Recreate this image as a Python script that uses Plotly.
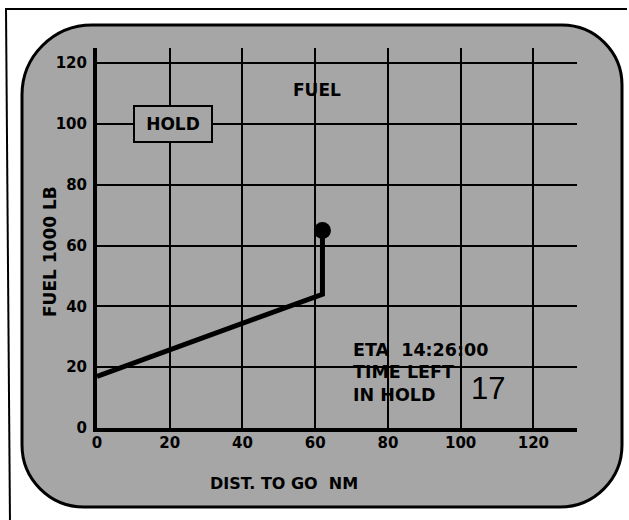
import plotly.graph_objects as go

# ---- data ----
dist_to_go = [0, 62, 62]          # NM
fuel_klb = [17, 44, 65]           # 1000 LB
current_dist = [62]
current_fuel = [65]
x_ticks = [0, 20, 40, 60, 80, 100, 120]
y_ticks = [0, 20, 40, 60, 80, 100, 120]
x_title = "DIST. TO GO  NM"
y_title = "FUEL 1000 LB"
panel_title = "FUEL"
mode_label = "HOLD"
eta_text = "ETA  14:26:00"
time_left_label = ["TIME LEFT", "IN HOLD"]
time_left_value = "17"

W, H = 629, 520
L, R, T, B = 97, 577, 48, 428   # plot area in pixels


def px(p):
    return (p - L) / (R - L)


def py(p):
    return (B - p) / (B - T)


def rounded_rect(x0, y0, x1, y1, rtl, rtr, rbr, rbl):
    k = 0.5523
    pts = []
    pts.append(f"M{px(x0 + rtl)},{py(y0)}")
    pts.append(f"L{px(x1 - rtr)},{py(y0)}")
    pts.append(f"C{px(x1 - rtr + k * rtr)},{py(y0)} {px(x1)},{py(y0 + rtr - k * rtr)} {px(x1)},{py(y0 + rtr)}")
    pts.append(f"L{px(x1)},{py(y1 - rbr)}")
    pts.append(f"C{px(x1)},{py(y1 - rbr + k * rbr)} {px(x1 - rbr + k * rbr)},{py(y1)} {px(x1 - rbr)},{py(y1)}")
    pts.append(f"L{px(x0 + rbl)},{py(y1)}")
    pts.append(f"C{px(x0 + rbl - k * rbl)},{py(y1)} {px(x0)},{py(y1 - rbl + k * rbl)} {px(x0)},{py(y1 - rbl)}")
    pts.append(f"L{px(x0)},{py(y0 + rtl)}")
    pts.append(f"C{px(x0)},{py(y0 + rtl - k * rtl)} {px(x0 + rtl - k * rtl)},{py(y0)} {px(x0 + rtl)},{py(y0)}")
    pts.append("Z")
    return " ".join(pts)


FONT = "DejaVu Sans"
PANEL = "#a6a6a6"

fig = go.Figure()
fig.add_trace(go.Scatter(
    x=dist_to_go, y=fuel_klb, mode="lines",
    line=dict(color="black", width=5), hoverinfo="skip", showlegend=False,
    cliponaxis=False,
))
fig.add_trace(go.Scatter(
    x=current_dist, y=current_fuel, mode="markers",
    marker=dict(color="black", size=17), showlegend=False, cliponaxis=False,
))

shapes = [
    dict(type="path", xref="paper", yref="paper",
         path=rounded_rect(22, 25, 622, 507, 70, 60, 62, 62),
         fillcolor=PANEL, line=dict(color="black", width=3), layer="below"),
    dict(type="line", xref="paper", yref="paper",
         x0=px(5), x1=px(627), y0=py(9), y1=py(9),
         line=dict(color="black", width=2), layer="below"),
    dict(type="line", xref="paper", yref="paper",
         x0=px(6), x1=px(10), y0=py(9), y1=py(525),
         line=dict(color="black", width=2), layer="below"),
]


def bf(size):
    return dict(family=FONT, size=size, color="black", weight="bold")


annotations = [
    dict(text=panel_title, xref="paper", yref="paper", x=px(317), y=py(90),
         showarrow=False, font=bf(17), xanchor="center", yanchor="middle"),
    dict(text=mode_label, xref="paper", yref="paper", x=px(172.5), y=py(123.5),
         showarrow=False, font=bf(17), xanchor="center", yanchor="middle",
         bgcolor=PANEL, bordercolor="black", borderwidth=2,
         width=74, height=32),
    dict(text=eta_text, xref="paper", yref="paper", x=px(351), y=py(350),
         showarrow=False, font=bf(17.5), xanchor="left", yanchor="middle"),
    dict(text=time_left_label[0], xref="paper", yref="paper", x=px(351), y=py(372),
         showarrow=False, font=bf(17.5), xanchor="left", yanchor="middle"),
    dict(text=time_left_label[1], xref="paper", yref="paper", x=px(351), y=py(395),
         showarrow=False, font=bf(17.5), xanchor="left", yanchor="middle"),
    dict(text=time_left_value, xref="paper", yref="paper", x=px(488), y=py(388),
         showarrow=False, font=dict(family="Liberation Sans", size=31, color="black"),
         xanchor="center", yanchor="middle"),
    dict(text=x_title, xref="paper", yref="paper", x=px(284), y=py(483),
         showarrow=False, font=bf(16), xanchor="center", yanchor="middle"),
    dict(text=y_title, xref="paper", yref="paper", x=px(50), y=py(252),
         showarrow=False, font=bf(17), xanchor="center", yanchor="middle", textangle=-90),
]

tickfont = bf(15)

fig.update_layout(
    width=W, height=H,
    margin=dict(l=L, r=W - R, t=T, b=H - B, pad=0),
    paper_bgcolor="white",
    plot_bgcolor="rgba(0,0,0,0)",
    shapes=shapes,
    annotations=annotations,
    showlegend=False,
    xaxis=dict(
        range=[0, 132], tickvals=x_ticks, ticktext=[str(v) for v in x_ticks],
        showgrid=True, gridcolor="black", gridwidth=2,
        showline=True, linecolor="black", linewidth=4,
        zeroline=False, ticks="", ticklabelstandoff=-2,
        tickfont=tickfont, fixedrange=True,
    ),
    yaxis=dict(
        range=[0, 125], tickvals=y_ticks, ticktext=[str(v) for v in y_ticks],
        showgrid=True, gridcolor="black", gridwidth=2,
        showline=True, linecolor="black", linewidth=4,
        zeroline=False, ticks="", ticklabelstandoff=3,
        tickfont=tickfont, fixedrange=True,
    ),
)

fig.write_html(
    "out.html",
    config={"displayModeBar": False},
    post_script="document.body.style.margin='0px';document.body.style.overflow='hidden';",
)
